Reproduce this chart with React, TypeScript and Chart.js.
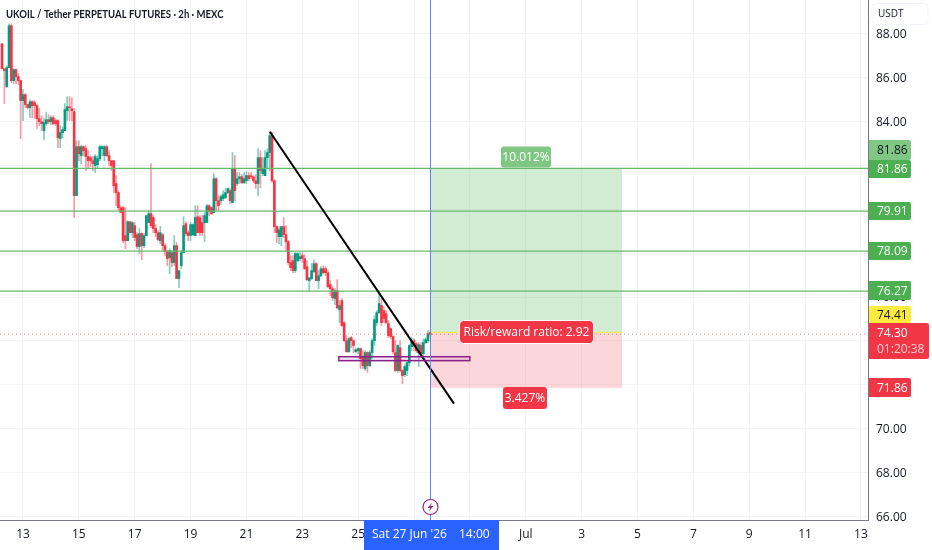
import React, { useEffect, useRef } from "react";
import { Chart, registerables } from "chart.js";

Chart.register(...registerables);

// 2h candles; day numbers count from 1 June 2026, so 1 July is day 31.
const firstCandleDay = 12.25;
const candleStepDays = 1 / 12;

const opens = [87.54,86.40,85.59,86.45,88.36,85.86,86.36,86.04,85.86,84.95,85.22,84.77,84.63,84.90,84.86,84.72,84.13,83.99,83.58,83.90,84.08,83.99,84.17,84.04,84.04,83.22,83.49,83.58,84.49,84.67,84.58,84.45,80.62,82.85,82.44,82.85,82.76,82.40,82.35,82.21,81.99,82.03,82.30,82.76,82.44,82.85,82.44,82.21,82.21,81.17,80.76,80.07,80.07,78.80,78.57,79.43,78.93,79.25,78.84,78.30,78.89,78.34,78.80,79.39,79.80,79.62,79.12,78.93,78.57,78.84,78.34,78.07,77.79,78.02,77.57,78.34,76.84,77.43,78.02,79.34,78.93,78.80,78.84,78.80,79.66,79.62,79.39,79.39,79.39,80.16,80.07,79.85,81.39,80.39,80.39,80.48,80.53,80.76,80.85,80.30,81.85,81.17,81.39,81.48,81.21,81.30,81.53,81.53,81.48,81.30,81.17,82.35,81.62,81.53,82.35,82.58,83.35,81.30,79.21,78.75,78.75,79.21,78.84,78.52,77.57,77.66,77.20,77.66,77.75,77.89,77.75,77.38,76.75,76.84,77.16,77.52,76.75,76.97,77.29,77.29,77.11,76.56,76.38,75.93,76.29,75.42,75.84,74.83,74.01,73.51,74.15,74.01,73.51,73.56,73.65,73.28,72.74,73.47,72.87,73.47,74.01,74.83,75.29,75.61,75.38,75.24,74.79,74.56,74.20,73.47,72.65,73.69,72.65,72.46,72.65,73.01,73.74,74.01,73.88,73.47,73.79,73.42,73.92,74.01,74.38];
const closes = [86.40,86.31,86.45,88.36,85.86,86.36,86.04,85.86,84.95,85.22,84.77,84.63,84.90,84.72,84.72,84.13,83.99,83.90,83.95,84.08,83.99,84.17,83.90,83.90,83.26,83.49,83.63,84.54,84.67,84.63,84.49,80.62,82.85,82.53,82.85,82.67,82.40,82.21,82.21,82.08,82.40,82.30,82.85,82.85,82.85,82.44,82.21,81.99,81.07,80.76,80.07,79.85,78.57,78.57,79.43,78.93,79.39,78.71,78.30,78.89,78.34,78.80,79.71,79.80,79.25,79.12,78.93,78.61,78.93,78.34,78.07,77.75,78.11,77.57,78.34,76.84,77.20,78.02,79.25,78.89,78.80,79.30,79.30,79.62,78.93,78.93,78.93,79.71,80.16,79.89,79.80,81.39,80.39,80.16,80.57,80.66,80.76,80.94,80.39,81.85,80.85,81.39,81.48,81.21,81.39,81.53,81.39,81.48,81.30,81.17,82.35,81.76,81.85,82.35,82.58,83.35,81.30,79.21,78.93,79.07,79.21,78.84,78.52,77.57,77.34,77.20,77.98,77.98,77.84,77.75,77.29,76.79,76.88,77.20,77.52,76.75,76.97,77.29,77.11,77.11,76.47,76.38,75.97,76.29,75.51,75.61,74.70,74.01,73.51,74.10,74.01,73.79,73.60,73.65,73.19,72.87,73.47,72.87,73.47,74.01,74.97,75.29,75.70,74.83,75.02,74.83,74.24,74.20,73.51,72.65,73.79,72.65,72.42,72.83,73.01,73.79,74.01,73.79,73.56,73.83,73.42,73.92,74.06,74.33,74.29];
const highs = [87.54,86.40,86.54,88.45,88.45,86.40,86.40,86.18,85.90,85.45,85.27,84.77,84.99,84.95,84.95,84.77,84.58,84.26,84.13,84.40,84.31,84.26,84.26,84.13,84.08,83.81,83.76,84.81,85.13,85.13,85.08,84.58,83.12,83.12,82.90,82.90,82.90,82.67,82.44,82.40,82.49,82.44,82.90,82.90,82.90,82.90,82.67,82.21,82.21,81.53,80.85,80.16,80.12,80.07,79.48,79.43,79.43,79.39,78.93,79.12,78.93,78.89,79.71,79.94,82.08,79.71,79.30,79.02,79.21,78.89,78.43,78.11,78.20,78.11,78.80,78.48,77.20,78.11,79.66,79.43,79.02,79.39,79.34,80.16,80.16,79.71,79.71,79.85,80.21,80.21,80.12,81.62,81.44,80.62,80.66,80.85,80.94,80.98,80.94,82.58,82.44,81.67,81.67,81.58,81.67,81.71,81.67,81.67,81.53,81.58,82.76,82.67,82.35,82.67,82.76,83.53,83.53,81.35,79.25,79.21,79.21,79.62,79.25,78.57,77.89,77.89,78.02,78.02,78.02,78.02,77.93,77.66,76.88,77.52,77.70,77.57,77.20,77.38,77.43,77.38,77.20,76.75,76.47,76.38,76.79,75.84,75.93,74.88,74.24,74.15,74.20,74.06,73.65,73.69,73.69,73.56,73.56,73.51,73.56,74.10,75.15,75.38,76.15,75.93,75.56,75.38,74.92,74.60,74.24,74.01,73.83,74.01,72.69,72.92,73.06,73.83,74.15,74.10,73.92,73.92,73.92,74.10,74.15,74.47,74.51];
const lows = [86.40,84.81,85.54,86.45,85.77,85.72,85.72,85.68,83.22,84.04,84.63,84.58,84.17,84.17,84.13,83.67,83.81,83.58,83.17,83.81,83.90,83.85,83.85,83.81,82.81,82.81,83.26,83.58,84.04,84.04,84.04,79.62,80.62,82.21,82.08,82.44,81.76,81.85,81.94,81.76,81.67,81.85,82.21,82.44,82.21,82.40,81.99,81.76,80.76,80.16,79.94,79.85,78.48,78.20,78.57,78.93,78.71,78.57,78.20,77.98,77.70,78.25,78.80,79.39,79.16,78.93,78.75,78.57,78.43,78.11,77.89,77.43,77.07,77.38,77.43,76.84,76.43,77.29,78.02,78.80,78.57,78.57,78.80,78.80,78.93,78.80,78.80,78.52,79.39,79.71,79.75,79.85,79.94,79.94,80.21,80.39,80.48,80.71,80.25,80.30,80.39,81.07,81.17,81.17,81.17,81.17,81.30,81.39,81.21,80.94,80.62,80.98,81.53,81.53,81.85,81.76,81.21,78.93,78.48,78.43,78.34,78.71,78.11,77.48,77.20,77.11,77.11,77.61,77.66,77.57,77.25,76.75,76.29,76.79,77.11,76.75,76.38,76.93,77.07,76.97,76.43,76.06,75.84,75.65,75.47,74.83,74.65,73.97,73.47,73.47,73.69,73.47,73.47,73.42,72.74,72.74,72.65,72.56,72.83,73.19,73.79,74.70,75.24,74.70,74.83,74.79,74.15,74.10,73.42,72.60,72.56,72.60,72.05,72.37,72.42,72.87,73.56,73.56,73.47,72.83,73.33,73.33,73.88,73.92,74.20];

const yTickValues = [88, 86, 84, 82, 80, 78, 76, 74, 72, 70, 68, 66];
const xTickDays = [13, 15, 17, 19, 21, 23, 25, 27, 29, 31, 33, 35, 37, 39, 41, 43];
const xTickLabels = ["13", "15", "17", "19", "21", "23", "25", "27", "29", "Jul", "3", "5", "7", "9", "11", "13"];

const levelLines = [81.86, 79.91, 78.09, 76.27];
const lastPrice = 74.3;
const entryPrice = 74.41;
const targetPrice = 81.86;
const stopPrice = 71.86;
const positionStartDay = 27.583;
const positionEndDay = 34.45;
const trendDays = [21.84, 28.43];
const trendPrices = [83.53, 71.14];
const zoneDays = [24.31, 29.0];
const zonePrices = [73.28, 73.1];

const UP = "#089981";
const DOWN = "#f23645";
const LEVEL = "#4caf50";
const FONT = "'Open Sans', sans-serif";
const X_MIN = 12.177;
const X_MAX = 43.254;
const Y_MIN = 65.84;
const Y_MAX = 89.533;

function roundBox(ctx: CanvasRenderingContext2D, x: number, y: number, w: number, h: number, r: any, fill: string, stroke?: string) {
  ctx.beginPath();
  ctx.roundRect(x, y, w, h, r);
  ctx.fillStyle = fill;
  ctx.fill();
  if (stroke) {
    ctx.strokeStyle = stroke;
    ctx.lineWidth = 1;
    ctx.stroke();
  }
}

function label(ctx: CanvasRenderingContext2D, text: string, x: number, y: number, color: string, font: string, align: CanvasTextAlign = "left") {
  ctx.font = font;
  ctx.fillStyle = color;
  ctx.textAlign = align;
  ctx.textBaseline = "middle";
  ctx.fillText(text, x, y);
}

const positionPlugin = {
  id: "positionArea",
  beforeDatasetsDraw(chart: any) {
    const { ctx, scales } = chart;
    const x0 = scales.x.getPixelForValue(positionStartDay);
    const x1 = scales.x.getPixelForValue(positionEndDay);
    const yT = scales.y.getPixelForValue(targetPrice);
    const yE = scales.y.getPixelForValue(entryPrice);
    const yS = scales.y.getPixelForValue(stopPrice);
    ctx.save();
    ctx.fillStyle = "rgba(76,175,80,0.25)";
    ctx.fillRect(x0, yT, x1 - x0, yE - yT);
    ctx.fillStyle = "rgba(242,54,69,0.2)";
    ctx.fillRect(x0, yE, x1 - x0, yS - yE);
    ctx.restore();
  },
};

const overlayPlugin = {
  id: "overlays",
  afterDatasetsDraw(chart: any) {
    const { ctx, scales } = chart;
    const sx = scales.x;
    const sy = scales.y;
    ctx.save();

    // entry line of the position
    const x0 = sx.getPixelForValue(positionStartDay);
    const x1 = sx.getPixelForValue(positionEndDay);
    const yE = Math.round(sy.getPixelForValue(entryPrice)) + 0.5;
    ctx.strokeStyle = "#ffeb3b";
    ctx.lineWidth = 1;
    ctx.beginPath();
    ctx.moveTo(x0, yE);
    ctx.lineTo(x1, yE);
    ctx.stroke();

    // purple zone
    const zx = sx.getPixelForValue(zoneDays[0]);
    const zw = sx.getPixelForValue(zoneDays[1]) - zx;
    const zy = sy.getPixelForValue(zonePrices[0]);
    const zh = sy.getPixelForValue(zonePrices[1]) - zy;
    ctx.fillStyle = "rgba(156,39,176,0.12)";
    ctx.fillRect(zx, zy, zw, zh);
    ctx.strokeStyle = "#8a2088";
    ctx.lineWidth = 1.5;
    ctx.strokeRect(zx, zy, zw, zh);

    // crosshair
    const cx = Math.round(sx.getPixelForValue(positionStartDay)) + 0.5;
    ctx.strokeStyle = "#5f85f5";
    ctx.lineWidth = 1;
    ctx.beginPath();
    ctx.moveTo(cx, 0);
    ctx.lineTo(cx, 520);
    ctx.stroke();

    // event icon
    ctx.beginPath();
    ctx.arc(cx, 507, 7.5, 0, Math.PI * 2);
    ctx.fillStyle = "#ffffff";
    ctx.fill();
    ctx.strokeStyle = "#9c2a86";
    ctx.lineWidth = 1.2;
    ctx.stroke();
    ctx.beginPath();
    ctx.moveTo(cx + 2, 502);
    ctx.lineTo(cx - 3, 508);
    ctx.lineTo(cx, 508);
    ctx.lineTo(cx - 2, 512);
    ctx.lineTo(cx + 3, 506);
    ctx.lineTo(cx, 506);
    ctx.closePath();
    ctx.fillStyle = "#9c2a86";
    ctx.fill();

    // position labels
    roundBox(ctx, 501, 146.5, 50, 21, 3, "#7fc783");
    label(ctx, "10.012%", 526, 158, "#ffffff", `500 12px ${FONT}`, "center");
    roundBox(ctx, 459.5, 320.5, 134, 23, 4, DOWN, "#ffffff");
    label(ctx, "Risk/reward ratio: 2.92", 526.5, 333, "#ffffff", `500 12px ${FONT}`, "center");
    roundBox(ctx, 503, 387, 44, 22, 3, DOWN);
    label(ctx, "3.427%", 525, 399, "#ffffff", `500 12px ${FONT}`, "center");

    // title, narrowed to the width it has in the reference
    ctx.save();
    ctx.translate(6, 14);
    ctx.scale(0.868, 1);
    label(ctx, "UKOIL / Tether PERPETUAL FUTURES · 2h · MEXC", 0, 0, "#131722", `700 11px Lato, sans-serif`);
    ctx.restore();

    // price axis labels
    const boxX = 869;
    const boxes: [string, number, number, string, string][] = [
      ["81.86", 140, 20, "#81c784", "#131722"],
      ["81.86", 160, 18, LEVEL, "#ffffff"],
      ["79.91", 202, 18, LEVEL, "#ffffff"],
      ["78.09", 242, 18, LEVEL, "#ffffff"],
      ["76.27", 281, 19, LEVEL, "#ffffff"],
      ["74.41", 306, 17, "#ffeb3b", "#131722"],
      ["71.86", 378, 19, DOWN, "#ffffff"],
    ];
    for (const [text, y, h, bg, fg] of boxes) {
      roundBox(ctx, boxX, y, 42, h, [0, 2, 2, 0], bg);
      label(ctx, text, 877, y + h / 2 + 1, fg, `500 12px ${FONT}`);
    }
    roundBox(ctx, boxX, 323, 60, 36, [0, 2, 2, 0], DOWN);
    label(ctx, "74.30", 877, 334, "#ffffff", `500 12px ${FONT}`);
    label(ctx, "01:20:38", 877, 349.5, "rgba(255,255,255,0.75)", `500 12px ${FONT}`);

    // currency button
    roundBox(ctx, 872, 3.5, 56, 21, 4, "#ffffff", "#f0f3fa");
    label(ctx, "USDT", 878, 14, "#131722", `10px ${FONT}`);

    // crosshair time label
    ctx.fillStyle = "#2962ff";
    ctx.fillRect(364, 520, 135, 30);
    label(ctx, "Sat 27 Jun '26", 372, 534.5, "#ffffff", `500 12px ${FONT}`);
    label(ctx, "14:00", 459, 534.5, "#ffffff", `500 12px ${FONT}`);
    ctx.restore();
  },
};

const clearPadding = (s: any) => {
  s.paddingTop = 0;
  s.paddingBottom = 0;
  s.paddingLeft = 0;
  s.paddingRight = 0;
};

export default function App() {
  const ref = useRef<HTMLCanvasElement | null>(null);
  useEffect(() => {
    const days = opens.map((_, i) => firstCandleDay + i * candleStepDays);
    const isUp = opens.map((o, i) => closes[i] >= o);
    const hLine = (price: number) => [
      { x: X_MIN, y: price },
      { x: X_MAX, y: price },
    ];
    const lineBase = { type: "line" as const, pointRadius: 0, fill: false, tension: 0 };
    const chart = new Chart(ref.current as HTMLCanvasElement, {
      type: "bar",
      data: {
        datasets: [
          {
            label: "wicks",
            order: 5,
            grouped: false,
            barThickness: 1,
            borderWidth: 0,
            backgroundColor: isUp.map((u) => (u ? "rgba(8,153,129,0.5)" : "rgba(242,54,69,0.5)")),
            data: days.map((d, i) => ({ x: d, y: [lows[i], highs[i]] })),
          },
          {
            label: "bodies",
            order: 4,
            grouped: false,
            barThickness: 2,
            borderWidth: 0,
            backgroundColor: isUp.map((u) => (u ? UP : DOWN)),
            data: days.map((d, i) => ({ x: d, y: [opens[i], closes[i]] })),
          },
          ...levelLines.map((p) => ({
            ...lineBase,
            label: "level",
            order: 3,
            borderColor: "#66bb6a",
            borderWidth: 1.2,
            data: hLine(p),
          })),
          {
            ...lineBase,
            label: "last",
            order: 2,
            borderColor: "rgba(242,54,69,0.55)",
            borderWidth: 1,
            borderDash: [1, 3],
            data: hLine(lastPrice),
          },
          {
            ...lineBase,
            label: "trend",
            order: 1,
            borderColor: "#000000",
            borderWidth: 2,
            data: trendDays.map((d, i) => ({ x: d, y: trendPrices[i] })),
          },
        ] as any,
      },
      options: {
        animation: false,
        responsive: false,
        devicePixelRatio: 1,
        maintainAspectRatio: false,
        layout: { padding: 0 },
        plugins: { legend: { display: false }, tooltip: { enabled: false }, title: { display: false } },
        scales: {
          x: {
            type: "linear",
            min: X_MIN,
            max: X_MAX,
            offset: false,
            afterBuildTicks: (s: any) => {
              s.ticks = xTickDays.map((value) => ({ value }));
            },
            afterFit: (s: any) => {
              s.height = 30;
              clearPadding(s);
            },
            grid: { color: "#f3f4f7", drawTicks: false, offset: false },
            border: { display: true, color: "#787b86" },
            ticks: {
              autoSkip: false,
              maxRotation: 0,
              padding: 7,
              color: "#131722",
              font: { family: "Open Sans", size: 12, weight: "500" },
              callback: (_: any, i: number) => xTickLabels[i],
            },
          },
          y: {
            type: "linear",
            position: "right",
            min: Y_MIN,
            max: Y_MAX,
            beginAtZero: false,
            afterBuildTicks: (s: any) => {
              s.ticks = yTickValues.map((value) => ({ value }));
            },
            afterFit: (s: any) => {
              s.width = 64;
              clearPadding(s);
            },
            grid: { color: "#f3f4f7", drawTicks: false },
            border: { display: true, color: "#787b86" },
            ticks: {
              padding: 8,
              labelOffset: 1,
              color: "#131722",
              font: { family: "Open Sans", size: 12, weight: "500" },
              callback: (v: any) => Number(v).toFixed(2),
            },
          },
        },
      },
      plugins: [positionPlugin, overlayPlugin],
    } as any);
    return () => chart.destroy();
  }, []);

  return (
    <div style={{ position: "absolute", left: 0, top: 0, width: 932, height: 550, background: "#fff" }}>
      <canvas ref={ref} width={932} height={550} style={{ display: "block" }} />
    </div>
  );
}
